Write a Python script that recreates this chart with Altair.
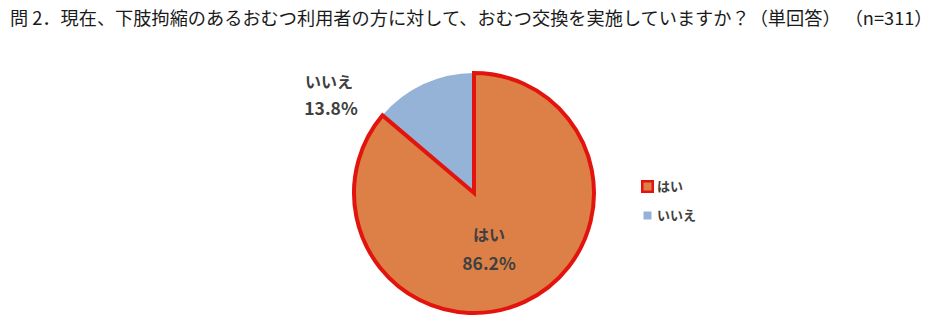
import altair as alt
import pandas as pd

answers = ["はい", "いいえ"]
shares = [86.2, 13.8]
fills = ["#DD8047", "#95B3D7"]
strokes = ["#E3140E", "#FFFFFF"]
title_text = "問 2．現在、下肢拘縮のあるおむつ利用者の方に対して、おむつ交換を実施していますか？（単回答） （n=311）"

df = pd.DataFrame({"answer": answers, "share": shares})
df["label"] = df["share"].map(lambda v: f"{v:.1f}%")

FONT = "Noto Sans CJK JP"
CX, CY, R = 474, 153, 120

base = alt.Chart(df)

color_scale = alt.Scale(domain=answers, range=fills)
stroke_scale = alt.Scale(domain=answers, range=strokes)

pie = base.mark_arc(strokeWidth=0).encode(
    theta=alt.Theta("share:Q", stack=True),
    order=alt.Order("order:Q"),
    color=alt.Color("answer:N", scale=color_scale, sort=answers,
                    legend=alt.Legend(title=None, orient="none", legendX=641, legendY=140,
                                      symbolType="square", symbolSize=110, symbolStrokeWidth=2.5,
                                      labelFont=FONT, labelFontSize=13, labelFontWeight="bold",
                                      labelColor="#404040", rowPadding=8, labelOffset=3)),
    stroke=alt.Stroke("answer:N", scale=stroke_scale, sort=answers),
    x=alt.value(CX), y=alt.value(CY), radius=alt.value(R),
).transform_calculate(order="datum.answer == 'はい' ? 0 : 1")

outline = base.mark_arc(fillOpacity=0, stroke="#E3140E", strokeWidth=4).encode(
    theta=alt.Theta("share:Q", stack=True),
    order=alt.Order("order:Q"),
    opacity=alt.condition("datum.answer == 'はい'", alt.value(1), alt.value(0)),
    x=alt.value(CX), y=alt.value(CY), radius=alt.value(R),
).transform_calculate(order="datum.answer == 'はい' ? 0 : 1")

def label_layer(ans, field, x, y, size):
    return base.transform_filter(f"datum.answer == '{ans}'").mark_text(
        font=FONT, fontSize=size, fontWeight="bold", color="#404040", align="center", baseline="middle"
    ).encode(text=f"{field}:N", x=alt.value(x), y=alt.value(y))

labels = (
    label_layer("いいえ", "answer", 329, 43, 16)
    + label_layer("いいえ", "label", 331, 70, 17.5)
    + label_layer("はい", "answer", 489, 196, 16)
    + label_layer("はい", "label", 489, 225, 17.5)
)

chart = alt.layer(pie, outline, labels).properties(
    width=932, height=291,
    title=alt.TitleParams(title_text, anchor="start", dx=10, offset=11, font=FONT,
                          fontSize=18.2, fontWeight="normal", color="#1a1a1a", frame="group"),
    autosize=alt.AutoSizeParams(type="none"),
    padding={"left": 0, "top": 40, "right": 0, "bottom": 0},
).configure_view(stroke=None)

chart.save("out.html", embed_options={"renderer": "svg", "actions": False})
